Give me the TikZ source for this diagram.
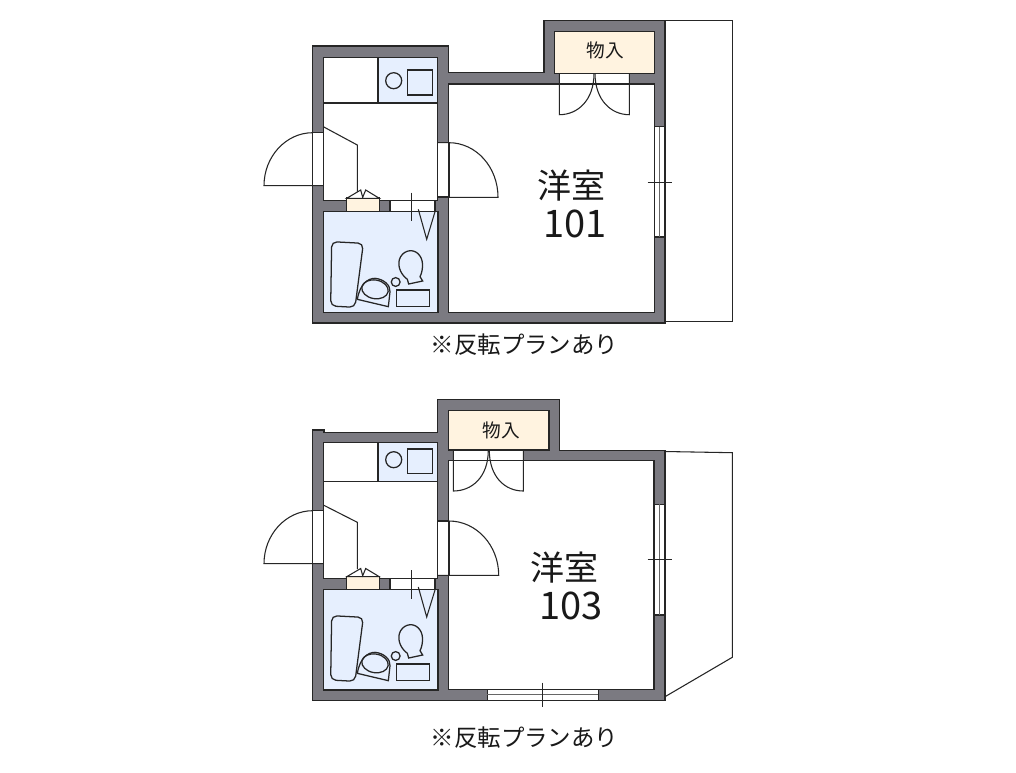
\documentclass[tikz,border=0pt]{standalone}
\usepackage{fontspec}
\setmainfont{Noto Sans CJK JP}
\definecolor{wallgray}{HTML}{7B7A81}
\definecolor{wetblue}{HTML}{E6EFFE}
\definecolor{creamfill}{HTML}{FFF3E0}
\tikzset{
  ln/.style={draw=black!85,line width=1pt,line join=miter},
  thin ln/.style={draw=black!85,line width=0.8pt},
  wall/.style={ln,fill=wallgray},
  roomw/.style={ln,fill=white},
  wet/.style={ln,fill=wetblue},
  cream/.style={ln,fill=creamfill},
  opening/.style={thin ln,fill=white},
  fixture/.style={draw=black!85,line width=0.95pt},
  label big/.style={font=\fontsize{25.5pt}{28pt}\selectfont,inner sep=0pt,text=black!90},
  label num/.style={font=\fontsize{28.5pt}{30pt}\selectfont,inner sep=0pt,text=black!90},
  label small/.style={font=\fontsize{14pt}{16pt}\selectfont,inner sep=0pt,text=black!90},
  label cap/.style={font=\fontsize{17.6pt}{20pt}\selectfont,inner sep=0pt,text=black!90}
}
\newcommand{\bathfix}[1]{%
  \begin{scope}[shift={(300,#1)},x=0.25pt,y=-0.25pt]
    \draw[fixture,rounded corners=4pt] (95,185)--(190,190)--(165,382)--(92,378)--cycle;
    \draw[fixture] (172,358) .. controls (180,310) and (205,295) .. (225,295)
       .. controls (250,297) and (272,315) .. (270,335) -- (265,380) -- cycle;
    \draw[fixture] (225,328) ellipse [x radius=10pt,y radius=7pt,rotate=-10];
    \draw[fixture] (287,306) circle [radius=3.3pt];
    \draw[fixture] (290,330) rectangle (389,379);
    \draw[fixture] (322,298) .. controls (298,280) and (290,250) .. (302,230)
       .. controls (315,208) and (345,205) .. (360,228)
       .. controls (372,245) and (368,275) .. (360,290) -- (368,303) -- (326,312) -- cycle;
  \end{scope}}
\begin{document}
\begin{tikzpicture}[x=0.75pt,y=-0.75pt]
\useasboundingbox[fill=white] (0,0) rectangle (1016,772);

%%%%%%%%%% Unit 101
\draw[thin ln] (665,20.7) -- (732.7,20.7) -- (732.7,321.5) -- (665,321.5);
\draw[wall] (312.7,46) -- (448.5,46) -- (448.5,72.7) -- (544,72.7) -- (544,20.7) -- (665,20.7) -- (665,323) -- (312.7,323) -- cycle;
\draw[roomw] (323.3,57.3) rectangle (437.7,200.7);
\draw[wet] (323.3,211.7) rectangle (438,312.3);
\draw[roomw] (448.5,84) rectangle (654.3,312.3);
\draw[cream] (554.3,31.3) rectangle (654.3,73.3);
% kitchen
\fill[wetblue] (378,57.8) rectangle (437.2,103);
\draw[ln] (323.3,103) -- (437.7,103) (378,57.3) -- (378,103);
\draw[fixture] (393.7,80.7) circle [radius=6pt];
\draw[fixture] (407.3,70) rectangle (432.7,95);
% closet
\draw[thin ln] (323.3,126.7) -- (357.3,145) -- (357.3,192);
% shoe box
\draw[cream] (346.7,198) rectangle (379.3,211.7);
\draw[thin ln,fill=white] (346.7,198.3) -- (360.7,190) -- (362.7,197.3) -- (365.7,190) -- (379.3,198.3) -- cycle;
% openings
\draw[opening] (312.7,132.7) rectangle (323.3,185.3);
\draw[opening] (437.7,142.7) rectangle (448.5,196.7);
\draw[opening] (390,200.7) rectangle (435,211.7);
\draw[opening] (559.3,73.3) rectangle (629.3,84);
\draw[opening] (654.3,126.7) rectangle (665,237);
\draw[thin ln,draw=black!60] (659.6,126.7) -- (659.6,237);
% doors
\draw[thin ln] (312.7,132.7) .. controls (286,132.7) and (264,156.5) .. (264,185.7) -- (323.3,185.7);
\draw[thin ln] (438,142.7) -- (449,142.7) .. controls (476,142.7) and (498,167) .. (498,197.3) -- (438,197.3);
\draw[thin ln] (449,142.7) -- (449,197.3);
\draw[thin ln] (559.3,73.3) -- (559.3,114.7) .. controls (578,114.7) and (594,100) .. (594,73.3);
\draw[thin ln] (629.3,73.3) -- (629.3,114.7) .. controls (611,114.7) and (595,100) .. (595,73.3);
\draw[thin ln] (411.7,192.7) -- (411.7,220.7);
\draw[thin ln] (418.3,209.3) -- (426.7,239.3) -- (435,211.7);
\draw[thin ln] (647.5,182.3) -- (671.5,182.3);
\bathfix{180}
% labels
\node[label big] (room1) at (571,186) {洋室};
\node[label num] (num1) at (575,224) {101};
\node[label small] (st1) at (605,50.5) {物入};
\node[label cap] (cap1) at (524.5,344.5) {※反転プランあり};

%%%%%%%%%% Unit 103
\draw[thin ln] (665,451.5) -- (732.3,452.7) -- (732.3,657.3) -- (665,696.7);
\draw[wall] (312.7,430) -- (324,430) -- (324,432.3) -- (437.7,432.3) -- (437.7,399.7) -- (559.3,399.7) -- (559.3,450.7) -- (665,450.7) -- (665,700.3) -- (312.7,700.3) -- cycle;
\draw[roomw] (323.3,442.7) rectangle (437.7,578.5);
\draw[wet] (323.3,589.3) rectangle (438,690);
\draw[roomw] (448.5,460.7) rectangle (654,689.3);
\draw[cream] (448.7,410.7) rectangle (549,450);
% kitchen
\fill[wetblue] (378,443.2) rectangle (437.2,481.7);
\draw[ln] (323.3,481.7) -- (437.7,481.7) (378,442.7) -- (378,481.7);
\draw[fixture] (393.7,459.7) circle [radius=6pt];
\draw[fixture] (407.3,449) rectangle (432.7,473.7);
% closet
\draw[thin ln] (323.3,505) -- (357.3,522.3) -- (357.3,569);
% shoe box
\draw[cream] (346.7,576.7) rectangle (379.3,589.3);
\draw[thin ln,fill=white] (346.7,576.7) -- (360.7,568.5) -- (362.7,575.7) -- (365.7,568.5) -- (379.3,576.7) -- cycle;
% openings
\draw[opening] (312.7,510.7) rectangle (323.3,563.7);
\draw[opening] (437.7,521) rectangle (448.5,575.3);
\draw[opening] (390,578.5) rectangle (435,589.3);
\draw[opening] (453.3,450) rectangle (523.3,460.7);
\draw[opening] (654,504.3) rectangle (665,615);
\draw[thin ln,draw=black!60] (659.5,504.3) -- (659.5,615);
\draw[opening] (487.3,689.3) rectangle (598.3,700.3);
\draw[thin ln,draw=black!60] (487.3,694.8) -- (598.3,694.8);
% doors
\draw[thin ln] (312.7,510.7) .. controls (286,510.7) and (264,534.5) .. (264,563.7) -- (323.3,563.7);
\draw[thin ln] (438,521) -- (449,521) .. controls (476.5,521) and (498.7,545.5) .. (498.7,575.3) -- (438,575.3);
\draw[thin ln] (449,521) -- (449,575.3);
\draw[thin ln] (453.3,450) -- (453.3,491) .. controls (472,491) and (488.3,477) .. (488.3,450);
\draw[thin ln] (523.3,450) -- (523.3,491) .. controls (505,491) and (489.3,477) .. (489.3,450);
\draw[thin ln] (411.7,570) -- (411.7,598.7);
\draw[thin ln] (418.3,587) -- (426.7,617) -- (435,590);
\draw[thin ln] (647.7,559.3) -- (671.7,559.3);
\draw[thin ln] (542.7,682.7) -- (542.7,706.7);
\bathfix{554}
% labels
\node[label big] (room3) at (564,568) {洋室};
\node[label num] (num3) at (571,606) {103};
\node[label small] (st3) at (501,430.5) {物入};
\node[label cap] (cap3) at (524.5,737.5) {※反転プランあり};
\end{tikzpicture}
\end{document}
